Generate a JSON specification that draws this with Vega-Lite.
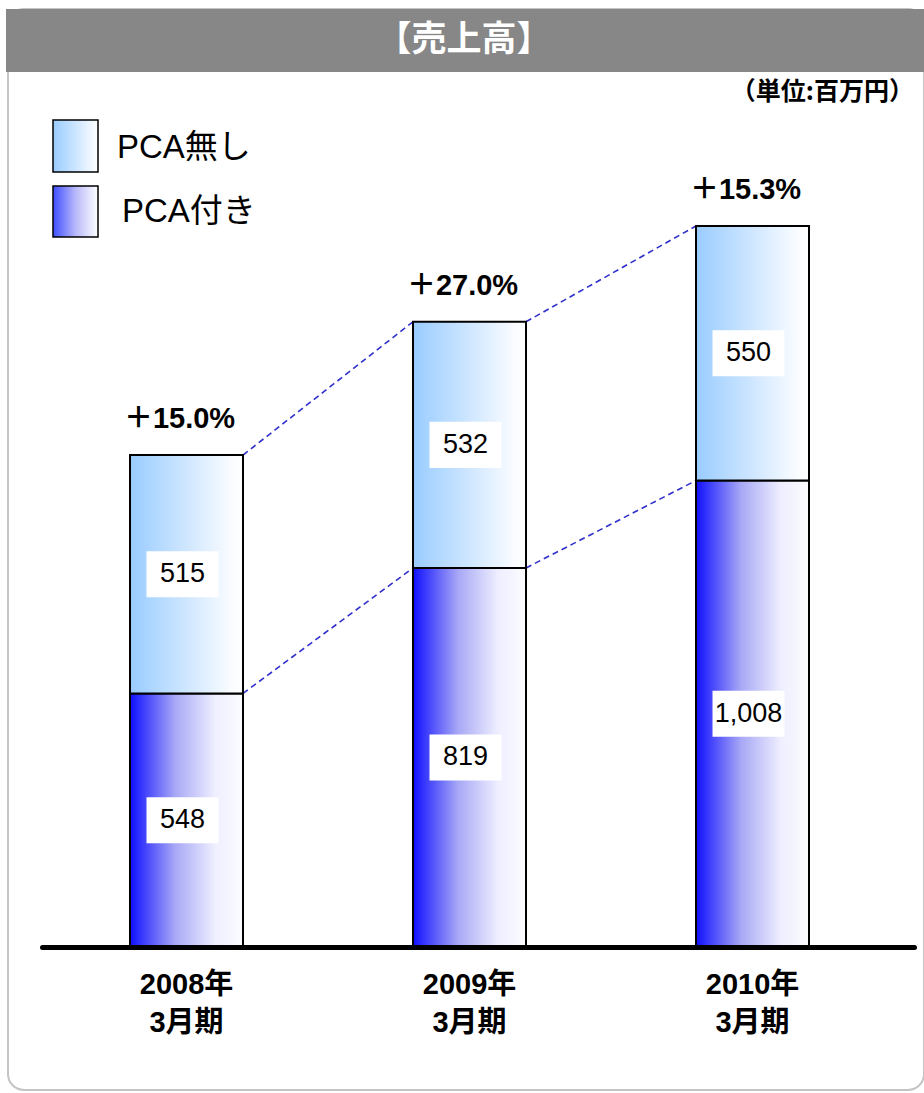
{
  "$schema": "https://vega.github.io/schema/vega-lite/v6.json",
  "width": 916,
  "height": 1081,
  "autosize": {"type": "none"},
  "padding": {"left": 8, "top": 9, "right": 0, "bottom": 3},
  "background": "white",
  "config": {"view": {"stroke": "#c4c4c4", "strokeWidth": 2, "cornerRadius": 16}},
  "layer": [
    {
      "data": {"values": [{}]},
      "mark": {"type": "rect", "color": "#878787"},
      "encoding": {"x": {"value": -2}, "x2": {"value": 920}, "y": {"value": 0}, "y2": {"value": 63}}
    },
    {
      "data": {"values": [{}]},
      "mark": {"type": "text", "text": "【売上高】", "font": "Noto Sans CJK JP", "fontSize": 35, "fontWeight": "bold", "color": "white", "align": "center", "baseline": "middle"},
      "encoding": {"x": {"value": 456}, "y": {"value": 31}}
    },
    {
      "data": {"values": [{}]},
      "mark": {"type": "text", "text": "（単位:百万円）", "font": "Noto Sans CJK JP", "fontSize": 25, "fontWeight": "bold", "color": "black", "align": "right", "baseline": "middle"},
      "encoding": {"x": {"value": 906}, "y": {"value": 83}}
    },
    {
      "data": {"values": [{}]},
      "mark": {"type": "rect", "stroke": "black", "strokeWidth": 1.5,
        "fill": {"gradient": "linear", "x1": 0, "y1": 0, "x2": 1, "y2": 0, "stops": [{"offset": 0, "color": "#99ccff"}, {"offset": 1, "color": "#ffffff"}]}},
      "encoding": {"x": {"value": 45}, "x2": {"value": 90}, "y": {"value": 111}, "y2": {"value": 163}}
    },
    {
      "data": {"values": [{}]},
      "mark": {"type": "rect", "stroke": "black", "strokeWidth": 1.5,
        "fill": {"gradient": "linear", "x1": 0, "y1": 0, "x2": 1, "y2": 0, "stops": [{"offset": 0, "color": "#3f4fff"}, {"offset": 0.5, "color": "#b8b8fa"}, {"offset": 1, "color": "#ffffff"}]}},
      "encoding": {"x": {"value": 45}, "x2": {"value": 90}, "y": {"value": 177}, "y2": {"value": 228}}
    },
    {
      "data": {"values": [{}]},
      "mark": {"type": "text", "text": "PCA無し", "font": "Liberation Sans, Noto Sans CJK JP", "fontSize": 33, "color": "black", "align": "left", "baseline": "middle"},
      "encoding": {"x": {"value": 109}, "y": {"value": 139}}
    },
    {
      "data": {"values": [{}]},
      "mark": {"type": "text", "text": "PCA付き", "font": "Liberation Sans, Noto Sans CJK JP", "fontSize": 33, "color": "black", "align": "left", "baseline": "middle"},
      "encoding": {"x": {"value": 114}, "y": {"value": 203}}
    },
    {
      "data": {
        "values": [
          {"year": "2008年\n3月期", "series": "PCA付き", "value": 548, "growth": "＋15.0%"},
          {"year": "2008年\n3月期", "series": "PCA無し", "value": 515, "growth": "＋15.0%"},
          {"year": "2009年\n3月期", "series": "PCA付き", "value": 819, "growth": "＋27.0%"},
          {"year": "2009年\n3月期", "series": "PCA無し", "value": 532, "growth": "＋27.0%"},
          {"year": "2010年\n3月期", "series": "PCA付き", "value": 1008, "growth": "＋15.3%"},
          {"year": "2010年\n3月期", "series": "PCA無し", "value": 550, "growth": "＋15.3%"}
        ]
      },
      "transform": [
        {"stack": "value", "groupby": ["year"], "sort": [{"field": "series", "order": "ascending"}], "as": ["v_start", "v_end"]}
      ],
      "layer": [
        {
          "transform": [
            {"window": [{"op": "lead", "field": "v_end", "as": "next_end"}, {"op": "lead", "field": "year", "as": "next_year"}], "groupby": ["series"], "sort": [{"field": "year", "order": "ascending"}]},
            {"filter": "datum.next_year != null"}
          ],
          "mark": {"type": "rule", "color": "#2f2fcc", "strokeWidth": 1.6, "strokeDash": [6, 4]},
          "encoding": {
            "x": {"field": "year", "type": "nominal", "bandPosition": 1,
              "scale": {"range": [34, 906], "paddingInner": 0.6007, "paddingOuter": 0.341, "align": 0.456},
              "axis": {"title": null, "orient": "bottom", "offset": -143, "ticks": false, "tickSize": 0, "grid": false, "labelAngle": 0,
                "domainWidth": 5, "domainColor": "black", "domainCap": "round", "zindex": 1,
                "labelFont": "Liberation Sans, Noto Sans CJK JP", "labelFontSize": 29, "labelFontWeight": "bold", "labelColor": "black",
                "labelPadding": 23, "labelLineHeight": 38, "labelBaseline": "top", "labelExpr": "split(datum.label, '\\n')"}},
            "x2": {"field": "next_year", "bandPosition": 0},
            "y": {"field": "v_end", "type": "quantitative", "scale": {"domain": [-309, 2026.8], "nice": false, "zero": false}, "axis": null},
            "y2": {"field": "next_end"}
          }
        },
        {
          "transform": [{"filter": "datum.series === 'PCA付き'"}],
          "mark": {"type": "bar", "stroke": "black", "strokeWidth": 2,
            "fill": {"gradient": "linear", "x1": 0, "y1": 0, "x2": 1, "y2": 0, "stops": [{"offset": 0, "color": "#1010ff"}, {"offset": 0.4, "color": "#a8a8f6"}, {"offset": 0.75, "color": "#eeeeff"}, {"offset": 1, "color": "#fcfcff"}]}},
          "encoding": {
            "x": {"field": "year", "type": "nominal"},
            "y": {"field": "v_start", "type": "quantitative", "scale": {"domain": [-309, 2026.8], "nice": false, "zero": false}, "axis": null},
            "y2": {"field": "v_end"}
          }
        },
        {
          "transform": [{"filter": "datum.series === 'PCA無し'"}],
          "mark": {"type": "bar", "stroke": "black", "strokeWidth": 2,
            "fill": {"gradient": "linear", "x1": 0, "y1": 0, "x2": 1, "y2": 0, "stops": [{"offset": 0, "color": "#99ccff"}, {"offset": 0.9, "color": "#fafcff"}, {"offset": 1, "color": "#ffffff"}]}},
          "encoding": {
            "x": {"field": "year", "type": "nominal"},
            "y": {"field": "v_start", "type": "quantitative", "scale": {"domain": [-309, 2026.8], "nice": false, "zero": false}, "axis": null},
            "y2": {"field": "v_end"}
          }
        },
        {
          "transform": [{"calculate": "(datum.v_start + datum.v_end) / 2", "as": "v_mid"}],
          "mark": {"type": "point", "shape": "M-1,-0.64H1V0.64H-1Z", "size": 5184, "filled": true, "color": "white", "opacity": 1, "strokeWidth": 0, "xOffset": -4},
          "encoding": {
            "x": {"field": "year", "type": "nominal"},
            "y": {"field": "v_mid", "type": "quantitative", "scale": {"domain": [-309, 2026.8], "nice": false, "zero": false}, "axis": null}
          }
        },
        {
          "transform": [{"calculate": "(datum.v_start + datum.v_end) / 2", "as": "v_mid"}],
          "mark": {"type": "text", "font": "Liberation Sans", "fontSize": 27, "color": "black", "align": "center", "baseline": "middle", "dx": -4},
          "encoding": {
            "x": {"field": "year", "type": "nominal"},
            "y": {"field": "v_mid", "type": "quantitative", "scale": {"domain": [-309, 2026.8], "nice": false, "zero": false}, "axis": null},
            "text": {"field": "value", "type": "quantitative", "format": ","}
          }
        },
        {
          "transform": [{"filter": "datum.series === 'PCA無し'"}],
          "mark": {"type": "text", "font": "Liberation Sans, Noto Sans CJK JP", "fontSize": 29, "fontWeight": "bold", "color": "black", "align": "center", "baseline": "middle", "dy": -36, "dx": -7},
          "encoding": {
            "x": {"field": "year", "type": "nominal"},
            "y": {"field": "v_end", "type": "quantitative", "scale": {"domain": [-309, 2026.8], "nice": false, "zero": false}, "axis": null},
            "text": {"field": "growth", "type": "nominal"}
          }
        }
      ]
    }
  ]
}
